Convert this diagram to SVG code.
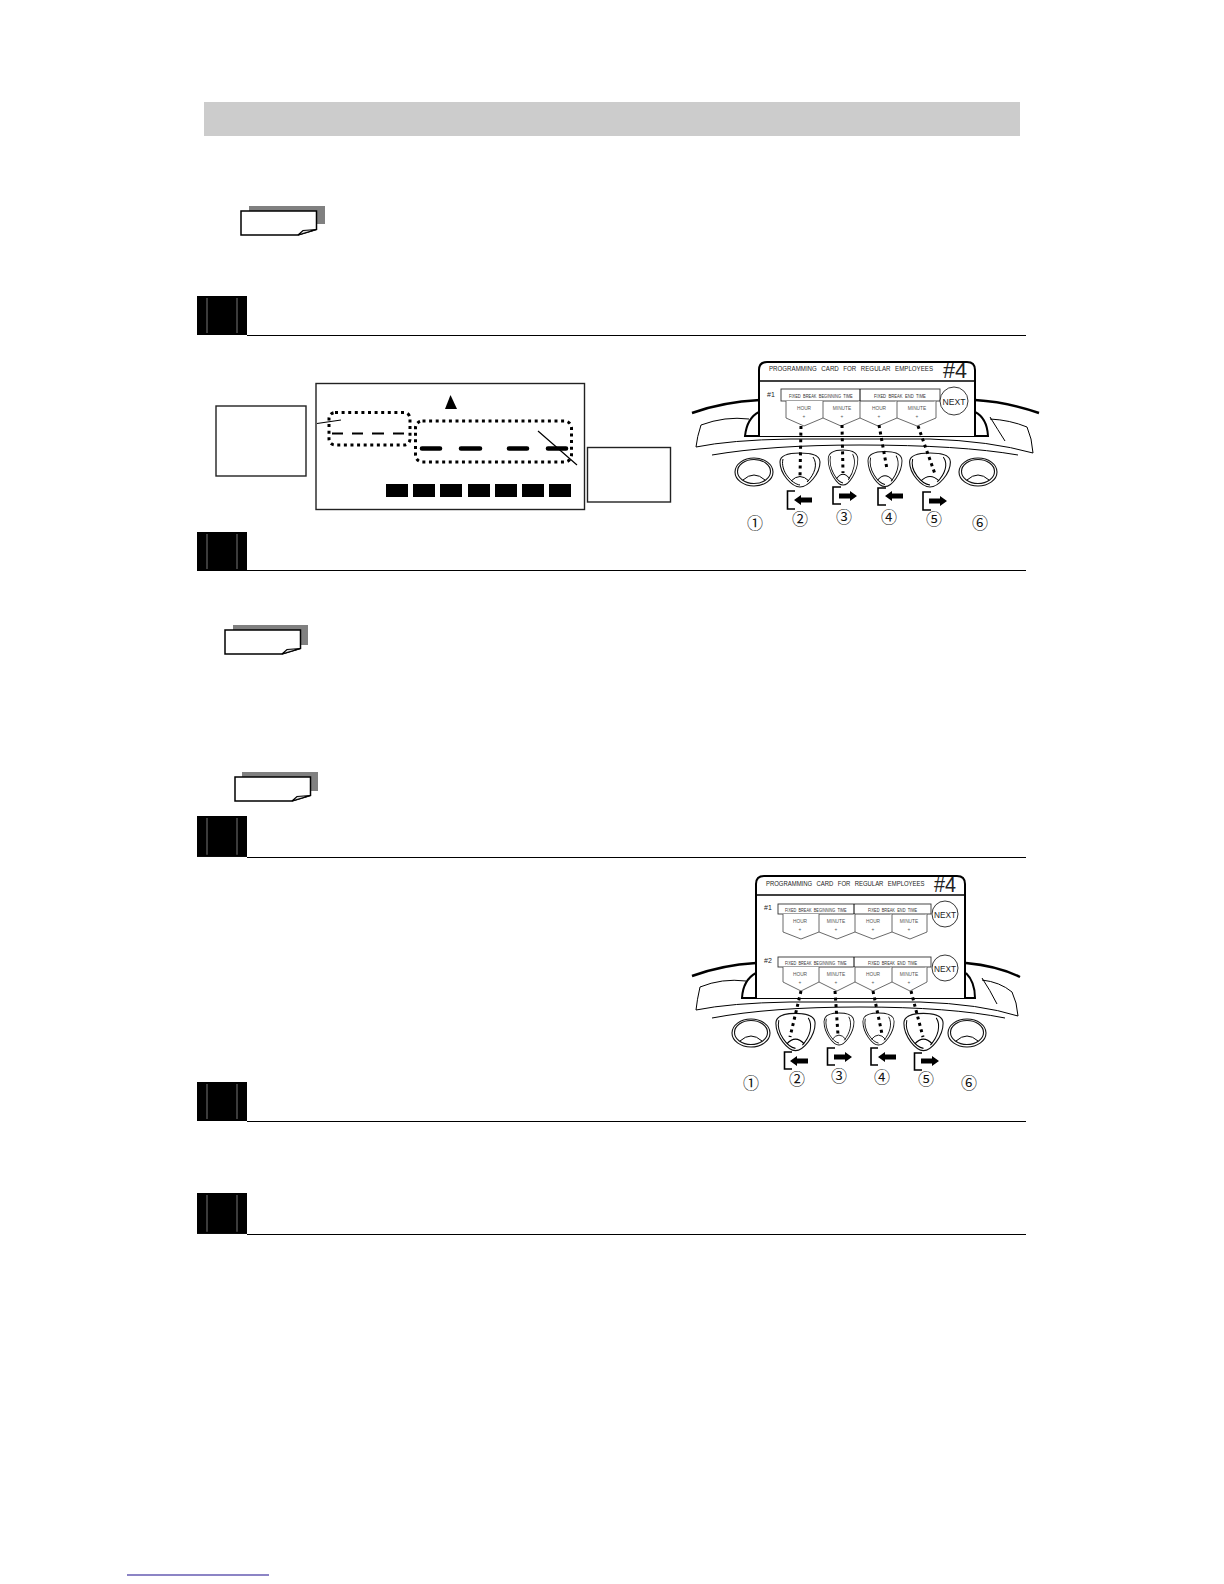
<svg xmlns="http://www.w3.org/2000/svg" width="1224" height="1584" viewBox="0 0 1224 1584">
<style>
text{font-family:"Liberation Sans",Arial,sans-serif;fill:#222}
.cjk{font-family:"Noto Sans CJK JP","DejaVu Sans",sans-serif;font-size:16px;text-anchor:middle;fill:#111}
.title{font-size:7.6px;word-spacing:3.5px}.band{font-size:5.6px;fill:#333;word-spacing:1.800px}.tl{font-size:4.8px;text-anchor:middle;fill:#555}
.hash{font-size:22px;font-weight:normal}.no{font-size:7px}.next{font-size:9.500px;text-anchor:middle}
.ln{fill:none;stroke:#000;stroke-width:1}.thick{fill:none;stroke:#000;stroke-width:2.4}
.box{fill:#fff;stroke:#222;stroke-width:1.4}.card{fill:#fff;stroke:#000;stroke-width:2}
.tab{fill:#fff;stroke:#444;stroke-width:.8}.bandr{fill:#fff;stroke:#333;stroke-width:.9}
.dots{fill:none;stroke:#000;stroke-width:3;stroke-dasharray:3 3.6}
.dash{stroke:#000;stroke-width:2;stroke-linecap:butt}.dashb{stroke:#000;stroke-width:4.6;stroke-linecap:round}
.key{fill:#fff;stroke:#111;stroke-width:1.1}.brk{fill:none;stroke:#000;stroke-width:1.6}
.shadow{fill:#808080}.note{fill:#fff;stroke:#000;stroke-width:1.5}
</style>
<defs>
<path id="arrow" d="M0,-2.500H11V-5L18,0L11,5V2.500H0Z" fill="#000"/>
<g id="step"><rect x="197" y="0" width="50" height="39"/><path d="M207,2V37M237,2V37" stroke="#777" stroke-width="1" fill="none"/></g>
<g id="notep"><path class="note" d="M0,0H75.500V18.500L57,24H0Z"/><path d="M75.500,18.500L62,19.500L57,24Z" fill="#ddd" stroke="#000" stroke-width="1.200"/></g>
<g id="shield"><path class="key" d="M-20,-8C-20,-16 -8,-17 0,-17C8,-17 20,-16 20,-8C20,4 8,17 0,17C-8,17 -20,4 -20,-8Z"/><path class="ln" d="M-17,-11C-20,1 -8,14 0,15M-9,11Q0,2 9,11M13,-13C18,-6 15,4 7,12"/></g>
<g id="roundk"><ellipse class="key" cx="0" cy="0" rx="19" ry="14"/><ellipse class="key" cx="0" cy="-.5" rx="16.500" ry="12"/><path class="ln" d="M-11,8Q0,-2 11,8"/></g>
</defs>
<rect width="1224" height="1584" fill="#fff"/>

<g id="header"><rect x="204" y="102" width="816" height="34" fill="#cccccc"/></g>

<g id="note-1"><rect class="shadow" x="249" y="206" width="76" height="18"/><use href="#notep" x="241" y="211"/></g>

<g id="step-1"><use href="#step" y="296"/><path d="M247,335.500H1026" stroke="#000" stroke-width="1.200"/></g>
<g id="step-2"><use href="#step" y="532"/><path d="M247,570.500H1026" stroke="#000" stroke-width="1.200"/></g>
<g id="note-2"><rect class="shadow" x="233" y="625" width="75" height="20"/><use href="#notep" x="225" y="630"/></g>
<g id="note-3"><rect class="shadow" x="242" y="772" width="76" height="19"/><use href="#notep" x="235" y="777"/></g>
<g id="step-3"><use href="#step" transform="translate(0 816) scale(1 1.050)"/><path d="M247,857.500H1026" stroke="#000" stroke-width="1.200"/></g>
<g id="step-4"><use href="#step" y="1082"/><path d="M247,1121.500H1026" stroke="#000" stroke-width="1.200"/></g>
<g id="step-5"><use href="#step" transform="translate(0 1193) scale(1 1.050)"/><path d="M247,1234.500H1026" stroke="#000" stroke-width="1.200"/></g>

<g id="label-left"><rect class="box" x="216" y="406" width="90" height="70"/></g>
<g id="label-right"><rect class="box" x="587.500" y="447.500" width="83" height="54.500"/></g>
<g id="display">
<rect class="box" x="316" y="383.500" width="268.500" height="126"/>
<path d="M450.500,395L457,409H445Z" fill="#000"/>
<rect class="dots" x="329" y="412.500" width="81" height="32.500" rx="6"/>
<rect class="dots" x="415.500" y="421" width="156" height="41" rx="7"/>
<path class="dash" d="M332,433.500H343M352,433.500H363M372,433.500H384M393,433.500H404"/>
<path class="dashb" d="M422,448.500H440M461,448.500H480M509,448.500H527M548,448.500H566"/>
<path d="M317,423.500L341,420M538,431L577,465" stroke="#000" stroke-width="1.200" fill="none"/>
<g fill="#000"><rect x="386" y="484" width="22" height="13"/><rect x="413" y="484" width="22" height="13"/><rect x="440" y="484" width="22" height="13"/><rect x="468" y="484" width="22" height="13"/><rect x="495" y="484" width="22" height="13"/><rect x="522" y="484" width="22" height="13"/><rect x="549" y="484" width="22" height="13"/></g>
</g>

<g id="device-1">
<path class="thick" d="M692,413Q722,402 760,400M975,400Q1008,402 1039,413"/>
<path class="ln" d="M701,425Q725,416 749,419M701,425Q697,437 696,447M696,447Q730,440 790,439H930Q990,441 1033,453M1033,453Q1032,438 1027,427M990,419Q1010,420 1027,427M712,455Q770,445 860,445Q960,445 1018,455M990,417Q998,430 1005,441"/>
<path d="M759,412Q747,418 745,436H988Q987,418 975,412" fill="none" stroke="#000" stroke-width="2"/>
<use href="#roundk" x="754" y="472"/>
<use href="#shield" x="800" y="470"/>
<use href="#shield" transform="translate(843 467.500) scale(.74 1.030)"/>
<use href="#shield" transform="translate(885 469) scale(.85 1.030)"/>
<use href="#shield" transform="translate(930 470) scale(1.020 1)"/>
<use href="#roundk" x="978" y="472"/>
<path class="card" d="M759,436V370Q759,362 767,362H967Q975,362 975,370V436"/>
<path d="M759,381H975" stroke="#000" stroke-width="1.500"/>
<text class="title" transform="translate(769 371) scale(.8 1)" textLength="205" lengthAdjust="spacingAndGlyphs">PROGRAMMING CARD FOR REGULAR EMPLOYEES</text>
<text class="hash" x="943" y="378" textLength="24" lengthAdjust="spacingAndGlyphs">#4</text>
<text class="no" x="767" y="397">#1</text>
<rect class="bandr" x="781" y="389" width="159" height="12"/><path class="ln" d="M860,389V401"/>
<text class="band" transform="translate(789 397.500) scale(.7 1)" textLength="91" lengthAdjust="spacingAndGlyphs">FIXED BREAK BEGINNING TIME</text>
<text class="band" transform="translate(874 397.500) scale(.7 1)" textLength="74" lengthAdjust="spacingAndGlyphs">FIXED BREAK END TIME</text>
<path class="tab" d="M786,401V418L804,426L823,418V401M823,418L841,426L860,418V401M860,418L878,426L897,418V401M897,418L917,426L936,418V401"/>
<text class="tl" x="804" y="410">HOUR</text><text class="tl" x="804" y="418">+</text>
<text class="tl" x="842" y="410">MINUTE</text><text class="tl" x="842" y="418">+</text>
<text class="tl" x="879" y="410">HOUR</text><text class="tl" x="879" y="418">+</text>
<text class="tl" x="917" y="410">MINUTE</text><text class="tl" x="917" y="418">+</text>
<circle cx="954" cy="401" r="14" fill="#fff" stroke="#222" stroke-width=".9"/><text class="next" x="954" y="404.500" textLength="23" lengthAdjust="spacingAndGlyphs">NEXT</text>
<path class="dots" d="M801,426L800,477M842,425L843,473M879,425L887,469M918,426L935,474"/>
<path class="brk" d="M795,491H787.500V509H795M841,487H833V504H841M886,488H878V505H886M931,492H923V510H931"/>
<use href="#arrow" transform="translate(812 500) scale(-1 1)"/><use href="#arrow" transform="translate(839 496)"/><use href="#arrow" transform="translate(903 496) scale(-1 1)"/><use href="#arrow" transform="translate(929 501)"/>
<text class="cjk" x="755" y="529">①</text><text class="cjk" x="800" y="525">②</text><text class="cjk" x="844" y="523">③</text><text class="cjk" x="889" y="523">④</text><text class="cjk" x="934" y="525">⑤</text><text class="cjk" x="980" y="529">⑥</text>
</g>

<g id="device-2">
<path class="thick" d="M692,976Q722,965 756,963M966,963Q998,966 1020,977"/>
<path class="ln" d="M700,987Q722,978 746,981M700,987Q697,1000 696,1010M696,1010Q730,1003 790,1002H920Q980,1004 1018,1016M1018,1016Q1017,1002 1012,992M982,980Q1000,982 1012,992M712,1018Q770,1007 860,1007Q950,1007 1005,1018M982,978Q990,990 997,1004"/>
<path d="M756,973Q743,980 742,998H975Q975,982 966,973" fill="none" stroke="#000" stroke-width="2"/>
<use href="#roundk" x="751" y="1033"/>
<use href="#shield" transform="translate(795.500 1032) scale(.98 1.090)"/>
<use href="#shield" transform="translate(839 1029) scale(.75 .94)"/>
<use href="#shield" transform="translate(878.500 1029) scale(.78 .94)"/>
<use href="#shield" transform="translate(923.500 1032) scale(.98 1.090)"/>
<use href="#roundk" x="967" y="1033"/>
<path class="card" d="M756,998V884Q756,876 764,876H957Q965,876 965,884V998"/>
<path d="M756,895H965" stroke="#000" stroke-width="1.500"/>
<text class="title" transform="translate(766 886) scale(.8 1)" textLength="198" lengthAdjust="spacingAndGlyphs">PROGRAMMING CARD FOR REGULAR EMPLOYEES</text>
<text class="hash" x="934" y="892" textLength="22" lengthAdjust="spacingAndGlyphs">#4</text>
<text class="no" x="764" y="910">#1</text>
<rect class="bandr" x="778" y="904" width="153" height="10"/><path class="ln" d="M854,904V914"/>
<text class="band" transform="translate(785 911.500) scale(.7 1)" textLength="88" lengthAdjust="spacingAndGlyphs">FIXED BREAK BEGINNING TIME</text>
<text class="band" transform="translate(868 911.500) scale(.7 1)" textLength="70" lengthAdjust="spacingAndGlyphs">FIXED BREAK END TIME</text>
<path class="tab" d="M783,914V932L801,939L819,932V914M819,932L837,939L855,932V914M855,932L873,939L892,932V914M892,932L910,939L927,932V914"/>
<text class="tl" x="800" y="923">HOUR</text><text class="tl" x="800" y="931">+</text>
<text class="tl" x="836" y="923">MINUTE</text><text class="tl" x="836" y="931">+</text>
<text class="tl" x="873" y="923">HOUR</text><text class="tl" x="873" y="931">+</text>
<text class="tl" x="909" y="923">MINUTE</text><text class="tl" x="909" y="931">+</text>
<circle cx="945" cy="914" r="13" fill="#fff" stroke="#222" stroke-width=".9"/><text class="next" x="945" y="917.500" textLength="22" lengthAdjust="spacingAndGlyphs">NEXT</text>
<text class="no" x="764" y="963">#2</text>
<rect class="bandr" x="778" y="957" width="153" height="10"/><path class="ln" d="M854,957V967"/>
<text class="band" transform="translate(785 964.500) scale(.7 1)" textLength="88" lengthAdjust="spacingAndGlyphs">FIXED BREAK BEGINNING TIME</text>
<text class="band" transform="translate(868 964.500) scale(.7 1)" textLength="70" lengthAdjust="spacingAndGlyphs">FIXED BREAK END TIME</text>
<path class="tab" d="M783,967V982L801,991L819,982V967M819,982L837,991L855,982V967M855,982L873,991L892,982V967M892,982L910,991L927,982V967"/>
<text class="tl" x="800" y="976">HOUR</text><text class="tl" x="800" y="984">+</text>
<text class="tl" x="836" y="976">MINUTE</text><text class="tl" x="836" y="984">+</text>
<text class="tl" x="873" y="976">HOUR</text><text class="tl" x="873" y="984">+</text>
<text class="tl" x="909" y="976">MINUTE</text><text class="tl" x="909" y="984">+</text>
<circle cx="945" cy="968" r="13" fill="#fff" stroke="#222" stroke-width=".9"/><text class="next" x="945" y="971.500" textLength="22" lengthAdjust="spacingAndGlyphs">NEXT</text>
<path class="dots" d="M801,991L790,1037M835,991L838,1035M873,991L882,1034M911,991L923,1037"/>
<path class="brk" d="M792,1052H784.500V1069H792M835,1048H827.500V1065H835M878,1048H871V1065H878M922,1053H914.500V1070H922"/>
<use href="#arrow" transform="translate(808 1061) scale(-1 1)"/><use href="#arrow" transform="translate(834 1057)"/><use href="#arrow" transform="translate(896 1057) scale(-1 1)"/><use href="#arrow" transform="translate(921 1061)"/>
<text class="cjk" x="751" y="1089">①</text><text class="cjk" x="797" y="1085">②</text><text class="cjk" x="839" y="1082">③</text><text class="cjk" x="882" y="1083">④</text><text class="cjk" x="926" y="1085">⑤</text><text class="cjk" x="969" y="1089">⑥</text>
</g>

<g id="footer-link"><path d="M127,1575H269" stroke="#1a0a8c" stroke-width="1.200"/></g>
</svg>
